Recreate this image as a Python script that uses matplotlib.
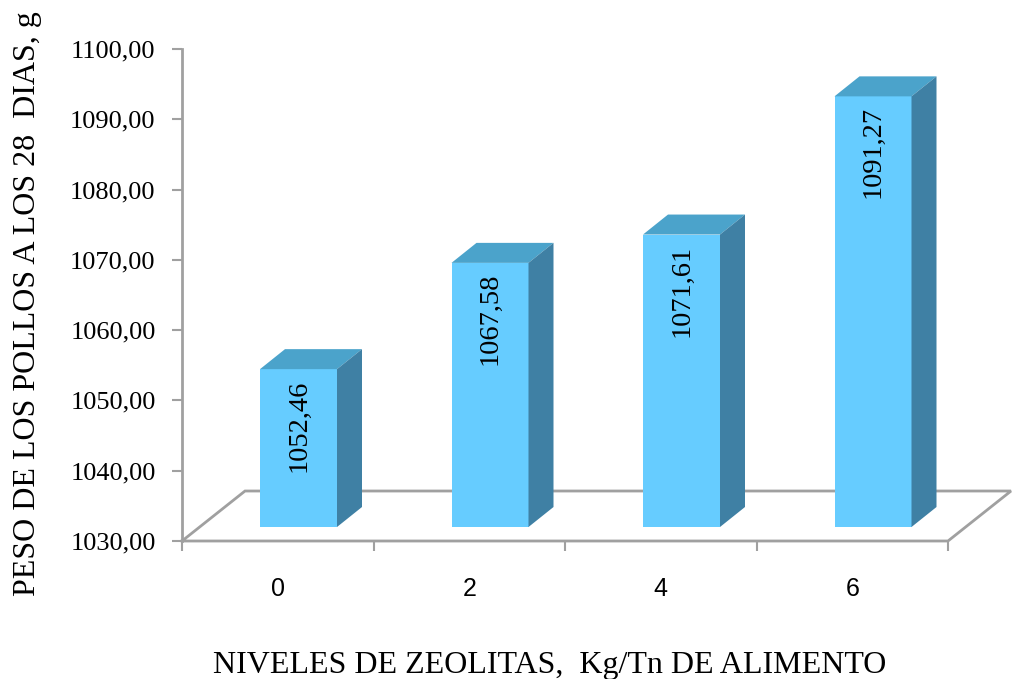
import matplotlib.pyplot as plt
from matplotlib.patches import Polygon

# Data
niveles = ["0", "2", "4", "6"]
peso = [1052.46, 1067.58, 1071.61, 1091.27]
y_ticks = [1030, 1040, 1050, 1060, 1070, 1080, 1090, 1100]

serif = ["Liberation Serif", "DejaVu Serif"]
narrow = ["Liberation Sans Narrow", "Liberation Sans", "DejaVu Sans"]

front_col = "#66CCFF"
top_col = "#4BA3CB"
side_col = "#3F80A4"
grid_col = "#A0A0A0"

fig = plt.figure(figsize=(10.16, 6.79), dpi=100)
W, H = 1016, 679
ax = fig.add_axes([182 / W, 1 - 541 / H, 830 / W, (541 - 49) / H])

px_x = 191.5          # pixels per category
px_y = 70.3 / 10      # pixels per value unit
ax.set_xlim(0, 830 / px_x)
ax.set_ylim(1030, 1100)

# depth offsets (in data units)
floor_dx, floor_dy = 63 / px_x, 50 / px_y
bar_dx, bar_dy = 25 / px_x, 20 / px_y
front_dy = 14 / px_y
bar_left = 78 / px_x
bar_w = 77 / px_x
base = 1030

# floor
n = len(niveles)
floor = [(0, base), (n, base), (n + floor_dx, base + floor_dy),
         (floor_dx, base + floor_dy), (0, base)]
ax.plot([p[0] for p in floor], [p[1] for p in floor], color=grid_col,
        lw=2, clip_on=False, zorder=1, solid_joinstyle="miter")

# 3D bars
for i, v in enumerate(peso):
    x0 = i + bar_left
    x1 = x0 + bar_w
    b = base + front_dy
    t = v + front_dy
    ax.bar(x0, t - b, bottom=b, width=bar_w, align="edge", color=front_col,
           zorder=3, linewidth=0)
    ax.add_patch(Polygon([(x0, t), (x1, t), (x1 + bar_dx, t + bar_dy),
                          (x0 + bar_dx, t + bar_dy)], closed=True,
                         facecolor=top_col, edgecolor="none", zorder=3))
    ax.add_patch(Polygon([(x1, b), (x1, t), (x1 + bar_dx, t + bar_dy),
                          (x1 + bar_dx, b + bar_dy)], closed=True,
                         facecolor=side_col, edgecolor="none", zorder=3))
    ax.text(x0 + bar_w / 2, t - 10 / px_y, f"{v:.2f}".replace(".", ","),
            rotation=90, ha="center", va="top", fontsize=20.5,
            family=serif, zorder=4)

# axes styling
for s in ["top", "right", "bottom"]:
    ax.spines[s].set_visible(False)
ax.spines["left"].set_color(grid_col)
ax.spines["left"].set_linewidth(2)

ax.set_yticks(y_ticks)
ax.set_yticklabels([f"{t:.2f}".replace(".", ",") for t in y_ticks],
                   family=serif, fontsize=19)
ax.tick_params(axis="y", length=7, width=1.5, color=grid_col, pad=12)

ax.set_xticks(range(n + 1))
ax.set_xticklabels([""] * (n + 1))
ax.tick_params(axis="x", which="major", length=7, width=1.5, color=grid_col)
ax.set_xticks([i + 0.5 for i in range(n)], minor=True)
ax.set_xticklabels(niveles, minor=True, family=narrow, fontsize=18)
ax.tick_params(axis="x", which="minor", length=0, pad=26)

fig.text(550 / W, 1 - 665 / H, "NIVELES DE ZEOLITAS,  Kg/Tn DE ALIMENTO",
         ha="center", va="center", fontsize=23, family=serif)
fig.text(28 / W, 1 - 304 / H, "PESO DE LOS POLLOS A LOS 28  DIAS, g",
         rotation=90, ha="center", va="center", fontsize=23, family=serif)

fig.savefig("out.png", dpi=100)
